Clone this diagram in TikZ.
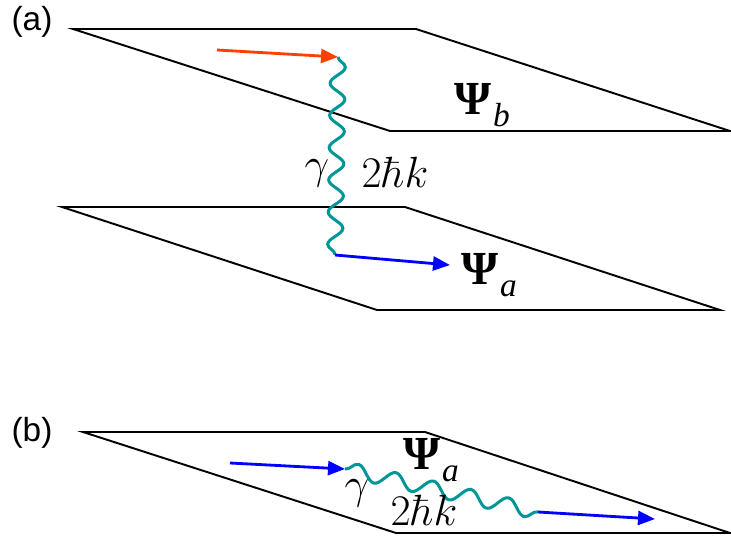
\documentclass[tikz,border=0pt]{standalone}
\usepackage{amsmath}
\usepackage[no-math]{fontspec}
\setmainfont{Liberation Serif}
\setsansfont{Liberation Sans}
\usetikzlibrary{arrows.meta,decorations.pathmorphing}

\definecolor{photoncol}{RGB}{0,150,150}
\definecolor{kickcol}{RGB}{255,64,0}
\definecolor{beamcol}{RGB}{0,0,255}

% state label: bold Psi with a low italic index
\newcommand{\statelbl}[1]{\textbf{Ψ}\kern1pt\lower7pt\hbox{\fontsize{19}{20}\selectfont\itshape #1}}

\begin{document}
\begin{tikzpicture}[
  x=0.02cm, y=-0.02cm,
  plane/.style={draw=black, line width=1.1pt, line join=miter},
  photon/.style={draw=photoncol, line width=1.7pt, decorate,
    decoration={snake, amplitude=0.15cm, segment length=#1}},
  photon/.default=0.645cm,
  beam/.style={-{Triangle[length=3.4mm, width=2.8mm]}, line width=1.6pt, draw=#1},
  tag/.style={font=\sffamily\fontsize{19}{22}\selectfont, inner sep=0pt},
  sym/.style={font=\fontsize{27}{30}\selectfont, inner sep=0pt},
]
\useasboundingbox (0,0) rectangle (731,538);

% (a) two planes
\coordinate (b1) at (73,29);  \coordinate (b2) at (416,29);
\coordinate (b3) at (730,131); \coordinate (b4) at (390,131);
\coordinate (a1) at (62,207);  \coordinate (a2) at (405,207);
\coordinate (a3) at (720,310); \coordinate (a4) at (377,310);
\draw[plane] (b1) -- (b2) -- (b3) -- (b4) -- cycle;
\draw[plane] (a1) -- (a2) -- (a3) -- (a4) -- cycle;

\coordinate (inA) at (217,50);
\coordinate (topA) at (338,57);
\coordinate (botA) at (335,255);
\coordinate (outA) at (450,265);
\draw[beam=kickcol] (inA) -- (topA);
\draw[photon] (topA) -- (botA);
\draw[beam=beamcol] (botA) -- (outA);

\node[tag] (lblA) at (32,22) {(a)};
\node[sym] (psib) at (482,105) {\statelbl{b}};
\node[sym] (psia) at (489,275) {\statelbl{a}};
\node[sym] (gamA) at (317,173) {$\gamma$};
\node[sym] (momA) at (395,172) {$2\hbar k$};

% (b) one plane
\coordinate (c1) at (83,432);  \coordinate (c2) at (425,432);
\coordinate (c3) at (730,533); \coordinate (c4) at (396,533);
\draw[plane] (c1) -- (c2) -- (c3) -- (c4) -- cycle;

\coordinate (inB) at (230,463);
\coordinate (startB) at (345,469);
\coordinate (endB) at (538,512);
\coordinate (outB) at (655,519);
\draw[beam=beamcol] (inB) -- (startB);
\draw[photon=0.77cm] (startB) -- (endB);
\draw[beam=beamcol] (endB) -- (outB);

\node[tag] (lblB) at (32,433) {(b)};
\node[sym] (psiaB) at (431,460) {\statelbl{a}};
\node[sym] (gamB) at (357,493) {$\gamma$};
\node[sym] (momB) at (424,510) {$2\hbar k$};
\end{tikzpicture}
\end{document}
